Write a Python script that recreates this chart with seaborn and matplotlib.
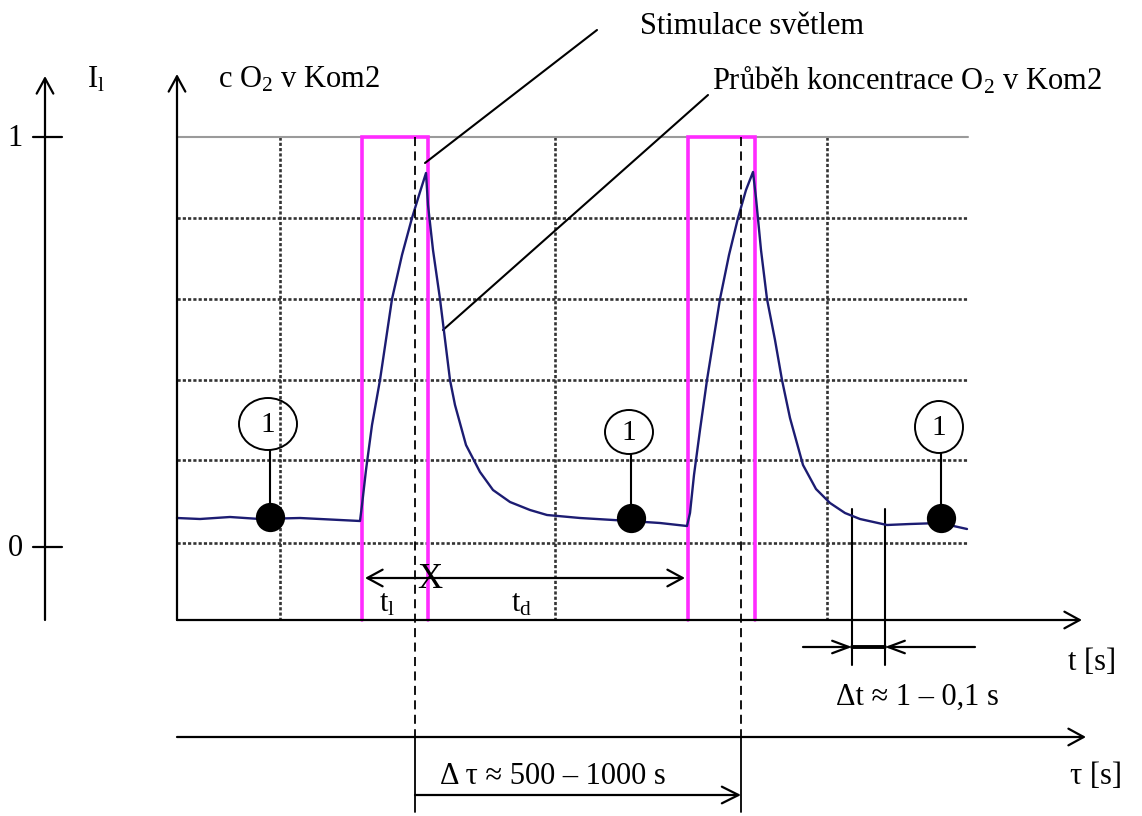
import matplotlib
matplotlib.use("Agg")
import matplotlib.pyplot as plt
import numpy as np
import pandas as pd
import seaborn as sns
from matplotlib.patches import Ellipse

# everything is laid out in picture pixels (x right, y down)
W, H = 1142, 816

# oscilloscope grid
grid_x = [280, 555, 827]
grid_y = [218, 299, 380, 460, 543]
grid_left, grid_right, grid_top = 177, 968, 137

# axes
t_axis_y = 620
tau_axis_y = 737

# light pulses (on, off)
pulse_on = [362, 688]
pulse_off = [428, 755]
peak_x = [415, 741]

# O2 trace
trace_x = [177, 200, 230, 260, 300, 340, 360,
           362, 366, 372, 380, 392, 402, 412, 420, 426,
           428, 433, 440, 450, 455, 466, 480, 493, 510, 530, 547, 580, 630, 660, 687,
           690, 694, 700, 707, 720, 729, 738, 746, 753,
           756, 761, 767, 775, 782, 790, 803, 816, 830, 845, 860, 887, 910, 940, 967]
trace_y = [518, 519, 517, 519, 518, 520, 521,
           505, 470, 425, 380, 299, 255, 218, 192, 173,
           205, 250, 299, 380, 405, 445, 472, 490, 502, 510, 515, 518, 521, 523, 526,
           513, 475, 430, 380, 299, 255, 218, 190, 172,
           198, 250, 299, 340, 380, 418, 465, 489, 503, 513, 519, 525, 524, 523, 529]

# labelled points "1"
marker_x = [270, 631, 941]
marker_y = [517, 518, 518]
label_y = [424, 432, 427]
label_w = [58, 48, 48]
label_h = [52, 44, 52]

# delta t window
dt_left, dt_right = 852, 885

FS = 22
SERIF = ["Liberation Serif", "DejaVu Serif"]

sns.set_style("white")
plt.rcParams["font.family"] = SERIF
plt.rcParams["text.color"] = "black"
plt.rcParams["mathtext.fontset"] = "custom"
plt.rcParams["mathtext.rm"] = "Liberation Serif"
plt.rcParams["mathtext.it"] = "Liberation Serif:italic"

fig = plt.figure(figsize=(W / 100, H / 100), dpi=100)
ax = fig.add_axes([0, 0, 1, 1])
ax.set_xlim(0, W)
ax.set_ylim(H, 0)
ax.axis("off")


def arrow(x0, y0, x1, y1, lw=1.6, style="->,head_length=1.1,head_width=0.6"):
    ax.annotate("", xy=(x1, y1), xytext=(x0, y0),
                arrowprops=dict(arrowstyle=style, lw=lw, color="black",
                                shrinkA=0, shrinkB=0))


# grid
for gy in grid_y:
    ax.plot([grid_left, grid_right], [gy, gy], color="#333333", lw=1.9,
            ls=(0, (1.2, 0.8)), zorder=1)
for gx in grid_x:
    ax.plot([gx, gx], [grid_top, t_axis_y], color="#333333", lw=1.9,
            ls=(0, (1.2, 0.8)), zorder=1)
ax.plot([grid_left, grid_right], [grid_top, grid_top], color="#9a9a9a", lw=1.5, zorder=1)

# light pulses
for on, off in zip(pulse_on, pulse_off):
    ax.plot([on, on, off, off], [t_axis_y, grid_top, grid_top, t_axis_y],
            color="#ff2bff", lw=2.6, solid_joinstyle="miter", zorder=2)

# trace
trace = pd.DataFrame({"x": trace_x, "y": trace_y})
sns.lineplot(data=trace, x="x", y="y", sort=False, estimator=None,
             color="#1c1c72", lw=1.7, ax=ax, zorder=3)

# dashed peak markers continuing to the tau axis
for px in peak_x:
    ax.plot([px, px], [grid_top, tau_axis_y], color="black", lw=1.3,
            ls=(0, (5, 3)), zorder=4)
    ax.plot([px, px], [tau_axis_y, 812], color="black", lw=1.3, zorder=4)

# axes with arrows
arrow(45, 620, 45, 76)
arrow(177, 620, 177, 74)
arrow(177, t_axis_y, 1082, t_axis_y)
arrow(177, tau_axis_y, 1086, tau_axis_y)
for ty in [137, 547]:
    ax.plot([33, 62], [ty, ty], color="black", lw=1.6)

# points "1"
pts = pd.DataFrame({"x": marker_x, "y": marker_y})
for mx, my, ly, lw_, lh in zip(marker_x, marker_y, label_y, label_w, label_h):
    ax.plot([mx, mx], [ly + lh / 2, my], color="black", lw=1.5, zorder=5)
    ax.add_patch(Ellipse((mx - 2, ly), lw_, lh, fill=False, ec="black", lw=1.4, zorder=5))
    ax.text(mx - 2, ly + 1, "1", ha="center", va="center", fontsize=FS - 1, zorder=6)
sns.scatterplot(data=pts, x="x", y="y", s=380, color="black", marker="o",
                ec="black", ax=ax, zorder=6)

# t_l / t_d double arrow
arrow(440, 578, 365, 578)
arrow(440, 578, 685, 578)
ax.text(430, 580, "X", ha="center", va="center", fontsize=FS + 3)
ax.text(387, 604, r"t$_\mathrm{l}$", ha="center", va="center", fontsize=FS)
ax.text(522, 604, r"t$_\mathrm{d}$", ha="center", va="center", fontsize=FS)

# delta t window
for dx in [dt_left, dt_right]:
    ax.plot([dx, dx], [509, 665], color="black", lw=1.5)
arrow(803, 647, dt_left, 647, style="->,head_length=1.2,head_width=0.45")
arrow(975, 647, dt_right, 647, style="->,head_length=1.2,head_width=0.45")
ax.plot([dt_left, dt_right], [647, 647], color="black", lw=2.8)

# delta tau arrow
arrow(415, 795, 741, 795, style="->,head_length=1.2,head_width=0.6")

# pointer lines
ax.plot([597, 425], [30, 163], color="black", lw=1.5)
ax.plot([708, 443], [95, 330], color="black", lw=1.5)

# texts
ax.text(15, 138, "1", ha="center", va="center", fontsize=FS)
ax.text(15, 549, "0", ha="center", va="center", fontsize=FS)
ax.text(87, 80, r"I$_\mathrm{l}$", ha="left", va="center", fontsize=FS)
ax.text(218, 80, r"c O$_\mathrm{2}$ v Kom2", ha="left", va="center", fontsize=FS)
ax.text(640, 26, "Stimulace světlem", ha="left", va="center", fontsize=FS)
ax.text(712, 80, r"Průběh koncentrace O$_\mathrm{2}$ v Kom2", ha="left", va="center", fontsize=FS)
ax.text(1068, 662, "t [s]", ha="left", va="center", fontsize=FS)
ax.text(836, 697, "Δt ≈ 1 – 0,1 s", ha="left", va="center", fontsize=FS)
ax.text(440, 776, "Δ τ ≈ 500 – 1000 s", ha="left", va="center", fontsize=FS)
ax.text(1070, 777, "τ [s]", ha="left", va="center", fontsize=FS)

fig.savefig("out.png", dpi=100)
